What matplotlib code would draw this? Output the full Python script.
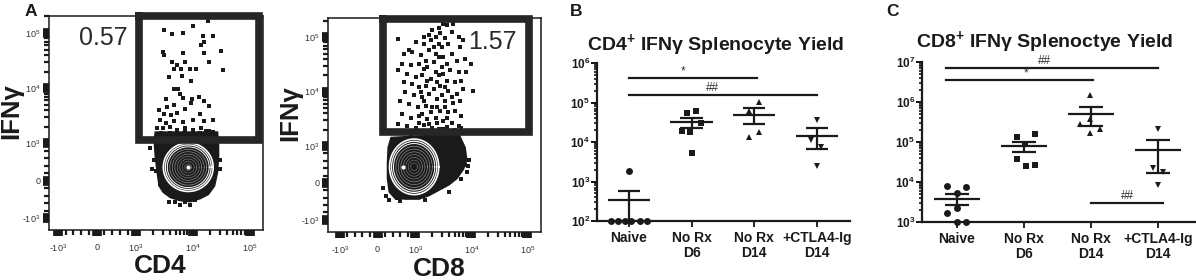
import numpy as np
import matplotlib
matplotlib.use("Agg")
import matplotlib.pyplot as plt
from matplotlib.ticker import FixedLocator, NullFormatter, LogLocator

plt.rcParams['font.family'] = ['Liberation Sans', 'DejaVu Sans']
plt.rcParams['mathtext.default'] = 'regular'

# ---------------------------------------------------------------- panel A data
# events inside the IFNg gate, as log10 of (CD4 / CD8, IFNg) fluorescence
cd4_gated_log = [
    (3.50, 5.05), (3.64, 4.98), (3.83, 5.01), (4.01, 5.13), (4.26, 5.22), (4.18, 4.95),
    (4.36, 4.95), (4.20, 4.84), (4.15, 4.79), (4.49, 4.67), (4.52, 4.33), (3.48, 4.66),
    (3.50, 4.60), (3.83, 4.64), (3.87, 4.47), (4.19, 4.63), (4.28, 4.47), (3.63, 4.48),
    (3.72, 4.42), (3.67, 4.35), (3.79, 4.34), (3.95, 4.35), (3.59, 4.21), (3.96, 4.13),
    (4.05, 4.34), (3.81, 4.22), (3.75, 3.99), (3.78, 3.90), (3.82, 3.83), (3.67, 3.98),
    (3.54, 3.81), (3.99, 3.81), (4.11, 3.84), (4.20, 3.77), (4.28, 3.67), (3.96, 3.73),
    (3.55, 3.65), (3.67, 3.69), (3.41, 3.60), (3.49, 3.53), (3.62, 3.51), (3.72, 3.55),
    (3.87, 3.63), (4.13, 3.53), (4.36, 3.43), (3.42, 3.43), (3.54, 3.37), (3.68, 3.41),
    (3.83, 3.39), (4.01, 3.42), (4.19, 3.41), (3.38, 3.28), (3.48, 3.27), (3.60, 3.30),
    (3.72, 3.24), (3.87, 3.27), (4.00, 3.25), (4.14, 3.28), (4.28, 3.22), (4.36, 3.21),
    (3.40, 3.12), (3.50, 3.14), (3.60, 3.10), (3.70, 3.13), (3.80, 3.11), (3.90, 3.14),
    (4.00, 3.10), (4.10, 3.13), (4.20, 3.11), (4.30, 3.12), (3.45, 3.18), (3.65, 3.17),
    (3.85, 3.19), (4.05, 3.17), (4.25, 3.16), (4.40, 3.15), (3.36, 3.07),
]
cd8_gated_log = [
    (3.50, 5.25), (3.42, 5.16), (3.56, 5.22), (3.68, 5.25), (3.30, 5.13), (3.44, 5.07),
    (3.36, 5.01), (3.24, 5.04), (3.65, 5.10), (3.77, 5.01), (3.53, 4.98), (2.74, 4.96),
    (3.01, 4.91), (3.15, 4.88), (3.42, 4.88), (3.85, 4.94), (3.80, 4.82), (2.92, 4.76),
    (2.84, 4.70), (2.96, 4.73), (3.09, 4.67), (3.24, 4.76), (3.36, 4.70), (3.50, 4.64),
    (3.65, 4.70), (3.74, 4.57), (3.88, 4.60), (4.00, 4.51), (2.81, 4.51), (2.94, 4.48),
    (3.06, 4.51), (3.21, 4.45), (3.33, 4.54), (3.47, 4.45), (3.62, 4.39), (3.77, 4.36),
    (3.91, 4.36), (2.74, 4.39), (2.89, 4.33), (3.01, 4.27), (3.12, 4.30), (3.27, 4.23),
    (3.42, 4.30), (3.56, 4.20), (3.71, 4.17), (3.82, 4.20), (2.84, 4.17), (2.96, 4.14),
    (3.06, 4.08), (3.18, 4.11), (3.33, 4.05), (3.44, 4.11), (3.59, 4.02), (3.74, 3.96),
    (3.85, 4.05), (2.86, 3.99), (2.98, 3.93), (3.12, 3.90), (3.24, 3.96), (3.39, 3.86),
    (3.53, 3.83), (3.68, 3.80), (3.80, 3.83), (4.03, 4.02), (2.77, 3.83), (2.92, 3.77),
    (3.04, 3.71), (3.18, 3.74), (3.30, 3.71), (3.44, 3.65), (3.59, 3.62), (3.71, 3.65),
    (3.82, 3.56), (2.81, 3.59), (2.94, 3.52), (3.06, 3.56), (3.21, 3.49), (3.36, 3.52),
    (3.50, 3.46), (3.65, 3.43), (3.77, 3.37), (2.74, 3.40), (2.89, 3.37), (3.01, 3.34),
    (3.15, 3.39), (3.30, 3.34), (3.42, 3.31), (3.56, 3.35), (3.70, 3.29), (3.82, 3.34),
    (3.15, 5.01), (3.27, 4.94), (3.33, 4.82), (3.47, 4.82), (3.59, 4.88), (3.18, 4.57),
    (3.42, 4.64), (3.56, 4.51), (3.15, 4.42), (3.36, 4.36), (3.50, 4.33), (3.21, 4.20),
    (3.39, 4.17), (3.53, 4.08), (3.09, 3.99), (3.47, 3.93), (3.65, 3.90), (3.15, 3.83),
    (3.39, 3.71), (3.53, 3.71), (3.12, 3.59), (3.27, 3.62), (3.56, 3.52), (3.06, 3.43),
    (3.24, 3.41), (3.39, 3.43), (3.50, 3.31), (3.62, 3.28), (2.85, 3.28), (3.10, 3.27),
    (3.35, 3.25), (3.60, 3.24), (2.95, 3.22), (3.20, 3.23), (3.45, 3.22), (3.72, 3.23),
]

# outline of the dense (ungated) population, raw fluorescence values
cd4_cloud_x = [2240, 2140, 2240, 2410, 2610, 3070, 4060, 6060, 9050, 13500, 18600,
               23700, 26700, 27800, 27800, 26700]
cd4_cloud_y = [1580, 1130, 641, 231, -139, -306, -444, -528, -556, -472, -361,
               -139, 231, 641, 1000, 1580]
cd8_cloud_x = [5890, 7630, 8170, 7130, 5450, 3900, 2600, 1740, 1160, 731, 453, 314,
               269, 269, 286, 361]
cd8_cloud_y = [1650, 958, 625, 375, 125, -49, -191, -334, -429, -429, -400, -237,
               125, 543, 958, 1420]

# scattered events round the edge of the population
cd4_edge = [(2240, 1130), (2510, 820), (2140, 564), (2320, 256), (2720, -83), (3330, -278),
            (4400, -417), (6060, -500), (9050, -472), (13500, -389), (18500, -222),
            (22800, 51), (24700, 359), (25700, 692), (23700, 949), (20000, 1230),
            (2950, 1320), (4060, 1510), (7400, 1630), (13500, 1510), (4960, -583),
            (7400, -583), (11000, -528), (1820, 872), (29500, 564), (6000, -640),
            (9000, -640), (3800, -560), (30000, 300), (17000, 1700), (1950, 300)]
cd8_edge = [(2980, 1240), (4100, 1000), (5460, 875), (6660, 675), (7540, 500), (6150, 325),
            (4830, 175), (3640, 50), (2750, -86), (1990, -200), (1330, -286), (778, -371),
            (500, -400), (222, -343), (139, -143), (9000, 625), (7240, 875), (8500, 300),
            (8800, 450), (4000, -250), (1500, -450), (600, -480), (300, -450), (6500, 100)]

# contour rings (centre in raw values, half axes in decades) and density peak
cd4_rings = [8320, 360]
cd4_ring_size = [0.435, 0.44]
cd4_peak = [8320, 360]
cd8_rings = [964, 437]
cd8_ring_size = [0.44, 0.51]
cd8_peak = [670, 425]

# IFNg gates: x0, y0, x1, y1 and the reported frequency
cd4_gate = [1130, 1130, 143000, 208000]
cd8_gate = [130, 1820, 108000, 220000]
cd4_freq = "0.57"
cd8_freq = "1.57"

flow_ticks = [-1e3, 0, 1e3, 1e4, 1e5]
flow_tick_labels = ['-10$^{3}$', '0', '10$^{3}$', '10$^{4}$', '10$^{5}$']
flow_minor_ticks = ([-800, -600, -400, -200, 200, 400, 600, 800]
                    + [k * 10 ** e for e in (3, 4, 5) for k in range(2, 10)]
                    + [-k * 1e3 for k in range(2, 10)])

# ---------------------------------------------------------------- panels B, C data
groups = ["Naive", "No Rx\nD6", "No Rx\nD14", "+CTLA4-Ig\nD14"]
group_markers = ['o', 's', '^', 'v']

cd4_yield = [
    [1800, 100, 100, 100, 100, 100, 100],
    [55000, 62000, 29500, 19500, 17400, 5200],
    [105000, 62000, 13500, 17400],
    [37000, 11000, 7400, 2500],
]
cd4_jitter = [
    [0, -0.29, -0.17, -0.06, 0.04, 0.17, 0.29],
    [-0.08, 0.07, 0.15, -0.15, -0.03, 0],
    [0.07, -0.08, -0.08, 0.07],
    [0, -0.09, 0.07, 0],
]
cd8_yield = [
    [7900, 7600, 5400, 2300, 1700, 1000, 1000],
    [136000, 155000, 89000, 37000, 25000, 27000],
    [1500000, 370000, 280000, 170000, 210000],
    [210000, 23000, 18000, 8400],
]
cd8_jitter = [
    [-0.15, 0.13, 0, 0, -0.15, 0, 0.13],
    [-0.11, 0.17, 0.02, -0.11, 0.03, 0.17],
    [-0.02, -0.02, -0.17, -0.02, 0.13],
    [0, -0.08, 0.07, 0],
]

# significance bars: (from group, to group, height, label, label x)
cd4_sig = [(0, 2.05, 4.2e5, "*", 0.87), (0, 3.0, 1.55e5, "##", 1.33)]
cd8_sig = [(-0.16, 3.0, 7.1e6, "##", 1.31), (-0.16, 2.03, 3.5e6, "*", 1.03),
           (2.0, 3.08, 3.0e3, "##", 2.55)]

LINTHRESH = 1000
LINSCALE = 0.61
INK = '#1a1a1a'


def ellipse(ax, centre, size, frac):
    """Ellipse drawn in the axis' own symlog space, returned in data values."""
    tx = ax.xaxis.get_transform()
    ty = ax.yaxis.get_transform()
    cx = tx.transform(np.array([float(centre[0])]))[0]
    cy = ty.transform(np.array([float(centre[1])]))[0]
    t = np.linspace(0, 2 * np.pi, 160)
    sx = cx + size[0] * frac * LINTHRESH * np.cos(t)
    sy = cy + size[1] * frac * LINTHRESH * np.sin(t)
    return tx.inverted().transform(sx), ty.inverted().transform(sy)


def flow_panel(ax, gated, cloud_x, cloud_y, edge, rings, ring_size, peak,
               gate, freq, freq_pos, xlabel, xlim, ylim, xlab_y):
    ax.set_xscale('symlog', linthresh=LINTHRESH, linscale=LINSCALE)
    ax.set_yscale('symlog', linthresh=LINTHRESH, linscale=LINSCALE)
    ax.set_xlim(xlim)
    ax.set_ylim(ylim)

    ev = 10 ** np.array(gated)
    ax.plot(ev[:, 0], ev[:, 1], 's', color=INK, ms=2.4, mew=0, zorder=2)
    ed = np.array(edge, dtype=float)
    ax.plot(ed[:, 0], ed[:, 1], 's', color=INK, ms=2.4, mew=0, zorder=2)
    ax.fill(cloud_x, cloud_y, color=INK, lw=1.5, ec=INK, zorder=2)

    # density contours: white rings on the outside, grey inside
    for frac, col, lw in [(1.0, 'white', 1.2), (0.92, 'white', 0.9), (0.84, 'white', 0.7),
                          (0.74, '#9a9a9a', 0.5), (0.64, '#8a8a8a', 0.5),
                          (0.54, '#8a8a8a', 0.5), (0.44, '#7a7a7a', 0.5),
                          (0.34, '#7a7a7a', 0.5), (0.24, '#6a6a6a', 0.5),
                          (0.14, '#6a6a6a', 0.5)]:
        ex, ey = ellipse(ax, rings, ring_size, frac)
        ax.plot(ex, ey, color=col, lw=lw, zorder=3)
    ax.plot([peak[0]], [peak[1]], 'o', color='white', ms=3, mew=0, zorder=4)

    x0, y0, x1, y1 = gate
    ax.plot([x0, x0, x1, x1, x0], [y1, y0, y0, y1, y1], color='#262626', lw=5.5,
            solid_joinstyle='miter', clip_on=False, zorder=5)
    ax.text(freq_pos[0], freq_pos[1], freq, transform=ax.transAxes, fontsize=18,
            color='#2a2a2a', ha='center', va='center')

    for axis in (ax.xaxis, ax.yaxis):
        axis.set_major_locator(FixedLocator(flow_ticks))
        axis.set_major_formatter(matplotlib.ticker.FixedFormatter(flow_tick_labels))
        axis.set_minor_locator(FixedLocator(flow_minor_ticks))
        axis.set_minor_formatter(NullFormatter())
    ax.tick_params(which='major', direction='out', length=4, width=1.8, pad=2,
                   labelsize=6.5, labelcolor='#333333', color=INK)
    ax.tick_params(which='minor', direction='out', length=3.5, width=1.6, color=INK,
                   bottom=True, left=True)
    ax.tick_params(axis='x', which='major', pad=5)
    for tick in ax.xaxis.get_major_ticks() + ax.yaxis.get_major_ticks():
        if tick.get_loc() == 0:
            tick.tick1line.set_markeredgewidth(7)
    for s in ax.spines.values():
        s.set_linewidth(1.1)
        s.set_color(INK)

    ax.set_xlabel(xlabel, fontsize=19, fontweight='bold', color=INK)
    ax.xaxis.set_label_coords(0.52, xlab_y)
    ax.set_ylabel("IFNγ", fontsize=18.5, fontweight='bold', color=INK)
    ax.yaxis.set_label_coords(-0.12, 0.555)


def yield_panel(ax, values, jitter, ylim, sig, title, title_pos):
    ax.set_yscale('log')
    ax.set_ylim(ylim)
    ax.set_xlim(-0.51, 3.53)
    for i, (vals, jit, m) in enumerate(zip(values, jitter, group_markers)):
        vals = np.array(vals, dtype=float)
        ax.plot(i + np.array(jit), vals, m, color=INK, ms=5 if m != 's' else 4.6,
                mew=0, clip_on=False, zorder=3)
        mean = vals.mean()
        sem = vals.std(ddof=1) / np.sqrt(len(vals))
        ax.hlines(mean, i - 0.34, i + 0.34, color=INK, lw=1.6, zorder=4)
        ax.vlines(i, max(mean - sem, ylim[0]), mean + sem, color=INK, lw=1.6, zorder=4)
        ax.hlines([mean - sem, mean + sem], i - 0.18, i + 0.18, color=INK, lw=1.6, zorder=4)

    for a, b, y, label, lx in sig:
        ax.plot([a, b], [y, y], color=INK, lw=1.6, clip_on=False)
        ax.text(lx, y * 1.04, label, ha='center', va='bottom', fontsize=8.5, color='#333333')

    ax.set_xticks(range(len(groups)))
    ax.set_xticklabels(groups, fontsize=10, fontweight='bold', color=INK, linespacing=1.1)
    decades = range(int(np.log10(ylim[0])), int(np.log10(ylim[1])) + 1)
    ax.set_yticks([10.0 ** d for d in decades])
    ax.set_yticklabels(['10$^{%d}$' % d for d in decades], fontsize=8.5,
                       fontweight='bold', color=INK)
    ax.yaxis.set_minor_locator(LogLocator(base=10, subs=np.arange(2, 10)))
    ax.yaxis.set_minor_formatter(NullFormatter())
    ax.tick_params(axis='y', which='major', direction='out', length=4, width=1.3, pad=1)
    ax.tick_params(axis='y', which='minor', direction='out', length=2.5, width=1.1)
    ax.tick_params(axis='x', direction='out', length=4, width=1.2, pad=3)
    for s in ('top', 'right'):
        ax.spines[s].set_visible(False)
    for s in ('left', 'bottom'):
        ax.spines[s].set_linewidth(1.6)
        ax.spines[s].set_color(INK)
    ax.text(title_pos[0], title_pos[1], title, transform=ax.transAxes, ha='center',
            va='center', fontsize=14, fontweight='bold', color=INK)


fig = plt.figure(figsize=(11.96, 2.8), dpi=100)

ax_a1 = fig.add_axes([49 / 1196, 50 / 280, 214 / 1196, 214 / 280])
flow_panel(ax_a1, cd4_gated_log, cd4_cloud_x, cd4_cloud_y, cd4_edge, cd4_rings,
           cd4_ring_size, cd4_peak, cd4_gate, cd4_freq, (0.252, 0.897), "CD4",
           (-1430, 168000), (-1650, 204000), -0.11)

ax_a2 = fig.add_axes([328 / 1196, 48 / 280, 213 / 1196, 214 / 280])
flow_panel(ax_a2, cd8_gated_log, cd8_cloud_x, cd8_cloud_y, cd8_edge, cd8_rings,
           cd8_ring_size, cd8_peak, cd8_gate, cd8_freq, (0.77, 0.888), "CD8",
           (-1620, 176000), (-1670, 225000), -0.115)

ax_b = fig.add_axes([597 / 1196, 59 / 280, 253 / 1196, 158 / 280])
yield_panel(ax_b, cd4_yield, cd4_jitter, (1e2, 1e6), cd4_sig,
            "CD4$^{+}$ IFNγ Splenocyte Yield", (0.47, 1.115))

ax_c = fig.add_axes([922 / 1196, 58 / 280, 273 / 1196, 160 / 280])
yield_panel(ax_c, cd8_yield, cd8_jitter, (1e3, 1e7), cd8_sig,
            "CD8$^{+}$ IFNγ Splenoctye Yield", (0.45, 1.125))
ax_c.set_xlim(-0.52, 3.55)

for letter, x in [("A", 25), ("B", 570), ("C", 886)]:
    fig.text(x / 1196, 1 - 4 / 280, letter, fontsize=12.5, fontweight='bold',
             color=INK, ha='left', va='top')

fig.savefig("out.png", dpi=100)
